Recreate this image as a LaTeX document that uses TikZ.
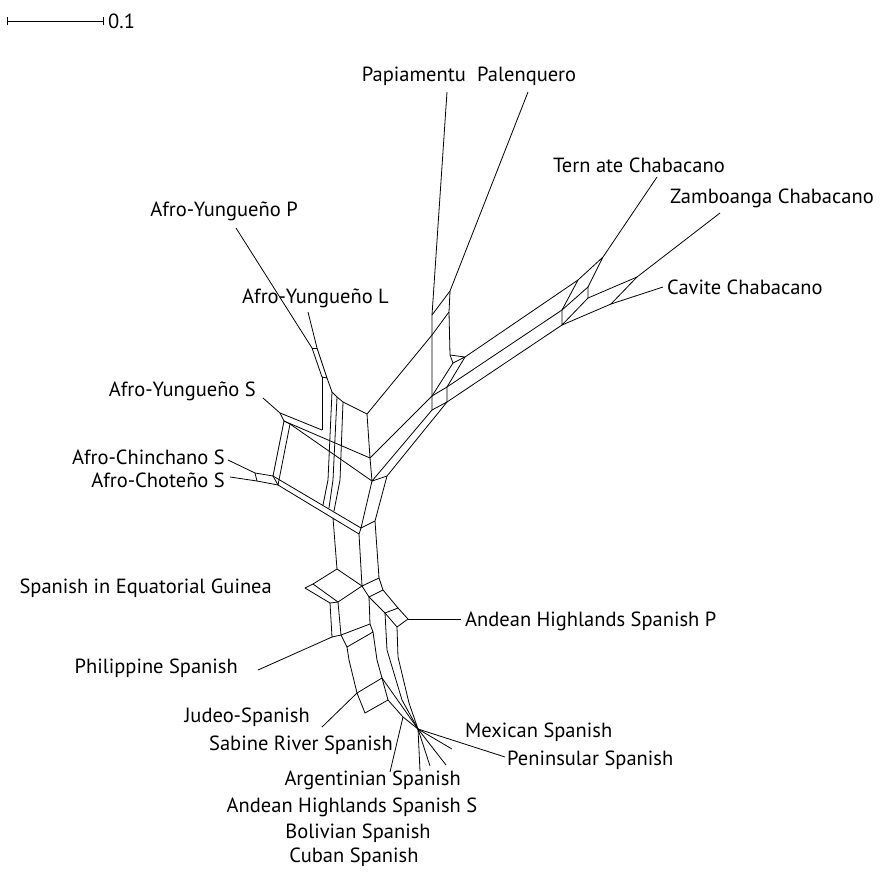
\documentclass[tikz,border=0pt]{standalone}
\usepackage{fontspec}
\setmainfont{PT Sans}
\usepackage{tikz}

\begin{document}
\begin{tikzpicture}[x=1pt, y=-1pt,
    net/.style={line width=0.8pt, line join=round},
    lbl/.style={inner sep=0pt, font=\fontsize{20.5}{24}\selectfont}]
        \useasboundingbox (0,0) rectangle (885,873);

        \coordinate (S0) at (7,21);
        \coordinate (S1) at (104,21);
        \node[lbl, anchor=west] (scl) at (108,21) {0.1};

        \coordinate (tPap) at (447,92);
        \coordinate (vPap) at (432,315);
        \coordinate (tPal) at (528,92);
        \coordinate (vPal) at (450,291);
        \coordinate (u1) at (432,335);
        \coordinate (u2) at (449,312);
        \coordinate (u3) at (432,396);
        \coordinate (u4) at (432,410);
        \coordinate (u5) at (450,355);
        \coordinate (u6) at (453,363);
        \coordinate (u7) at (465,357);
        \coordinate (k1) at (447,387);
        \coordinate (k2) at (447,402);

        \coordinate (tTer) at (657,177);
        \coordinate (vTer) at (603,257);
        \coordinate (c1) at (578,280);
        \coordinate (c2) at (588,287);
        \coordinate (c3) at (588,298);
        \coordinate (c4) at (562,310);
        \coordinate (c5) at (562,325);
        \coordinate (tZam) at (720,213);
        \coordinate (vZam) at (637,277);
        \coordinate (tCav) at (663,287);
        \coordinate (vCav) at (611,304);

        \coordinate (F) at (367,414);
        \coordinate (h1) at (370,458);
        \coordinate (h2) at (372,481);
        \coordinate (h3) at (387,476);

        \coordinate (tYP) at (236,228);
        \coordinate (vYP) at (312,348);
        \coordinate (tYL) at (308,312);
        \coordinate (vYL) at (317,348);
        \coordinate (y3) at (322,377);
        \coordinate (y4) at (327,378);
        \coordinate (a2) at (332,392);
        \coordinate (a3) at (337,397);
        \coordinate (a4) at (343,402);
        \coordinate (w1) at (322,430);
        \coordinate (v2a) at (328,480);
        \coordinate (v2b) at (323,505);
        \coordinate (v3a) at (333,480);
        \coordinate (v3b) at (329,508);
        \coordinate (v4a) at (340,480);
        \coordinate (v4b) at (334,511);

        \coordinate (tYS) at (263,398);
        \coordinate (vYS) at (280,413);
        \coordinate (sA) at (284,421);
        \coordinate (sB) at (290,424);
        \coordinate (tCh) at (228,460);
        \coordinate (vCh) at (255,473);
        \coordinate (tCt) at (230,477);
        \coordinate (vCt) at (257,481);
        \coordinate (bl1) at (273,476);
        \coordinate (bl2) at (278,485);
        \coordinate (j1a) at (361,528);
        \coordinate (j1b) at (359,534);
        \coordinate (j2) at (375,521);
        \coordinate (tl) at (333,518);

        \coordinate (T) at (337,569);
        \coordinate (q1) at (313,584);
        \coordinate (eqT) at (305,588);
        \coordinate (q2) at (330,603);
        \coordinate (q3) at (338,602);
        \coordinate (M) at (362,586);
        \coordinate (N) at (379,578);
        \coordinate (r1) at (383,590);
        \coordinate (r2) at (369,597);
        \coordinate (r3) at (398,608);
        \coordinate (r4) at (385,613);
        \coordinate (AP) at (408,619);
        \coordinate (r5) at (397,627);
        \coordinate (tAP) at (461,619);

        \coordinate (ph1) at (332,637);
        \coordinate (ph2) at (341,635);
        \coordinate (ph3) at (347,647);
        \coordinate (tPh) at (258,670);
        \coordinate (m1) at (370,624);
        \coordinate (m2) at (373,632);
        \coordinate (n1) at (349,660);
        \coordinate (n2) at (377,660);
        \coordinate (n3) at (387,650);
        \coordinate (n4) at (402,700);
        \coordinate (n5) at (398,657);
        \coordinate (n6) at (409,703);
        \coordinate (jb1) at (357,693);
        \coordinate (jb2) at (382,678);
        \coordinate (jb3) at (388,700);
        \coordinate (jb4) at (365,713);
        \coordinate (tJu) at (322,727);
        \coordinate (sr) at (403,717);
        \coordinate (tSa) at (390,772);
        \coordinate (fh) at (418,729);
        \coordinate (tAr) at (420,771);
        \coordinate (tAS) at (430,766);
        \coordinate (tBo) at (446,765);
        \coordinate (tMx) at (452,749);
        \coordinate (tPe) at (505,757);

        \node[lbl, anchor=east] (Pap) at (466,76) {Papiamentu};
        \node[lbl, anchor=west] (Pal) at (477,76) {Palenquero};
        \node[lbl, anchor=west] (Ter) at (553,165) {Tern ate Chabacano};
        \node[lbl, anchor=west] (Zam) at (670,198) {Zamboanga Chabacano};
        \node[lbl, anchor=west] (Cav) at (667,287) {Cavite Chabacano};
        \node[lbl] (AYP) at (224,211) {Afro-Yungueño P};
        \node[lbl, anchor=east] (AYL) at (389,298) {Afro-Yungueño L};
        \node[lbl, anchor=east] (AYS) at (256,391) {Afro-Yungueño S};
        \node[lbl, anchor=east] (ACh) at (225,457) {Afro-Chinchano S};
        \node[lbl, anchor=east] (ACt) at (225,480) {Afro-Choteño S};
        \node[lbl, anchor=east] (SEG) at (272,588) {Spanish in Equatorial Guinea};
        \node[lbl, anchor=west] (AHP) at (465,621) {Andean Highlands Spanish P};
        \node[lbl, anchor=east] (PhS) at (238,668) {Philippine Spanish};
        \node[lbl, anchor=east] (JuS) at (310,717) {Judeo-Spanish};
        \node[lbl, anchor=east] (SRS) at (393,745) {Sabine River Spanish};
        \node[lbl, anchor=west] (MxS) at (465,732) {Mexican Spanish};
        \node[lbl, anchor=west] (PeS) at (507,760) {Peninsular Spanish};
        \node[lbl, anchor=east] (ArS) at (461,780) {Argentinian Spanish};
        \node[lbl] (AHS) at (352,807) {Andean Highlands Spanish S};
        \node[lbl] (BoS) at (358,833) {Bolivian Spanish};
        \node[lbl] (CuS) at (354,857) {Cuban Spanish};

        \draw[net, |-|] (S0) -- (S1);

        \draw[net] (tPap) -- (vPap) -- (u1) -- (u3) -- (u4);
        \draw[net] (tPal) -- (vPal) -- (u2) -- (u5) -- (u6) -- (u3);
        \draw[net] (vPap) -- (vPal);
        \draw[net] (u1) -- (u2);
        \draw[net] (u1) -- (F);
        \draw[net] (u5) -- (u7) -- (u6);
        \draw[net] (u7) -- (k1) -- (k2);
        \draw[net] (k1) -- (u3);
        \draw[net] (k2) -- (u4);
        \draw[net] (u3) -- (h1);
        \draw[net] (u4) -- (h2);
        \draw[net] (k2) -- (h3) -- (h2);

        \draw[net] (tTer) -- (vTer) -- (c1) -- (c4) -- (c5) -- (c3) -- (c2) -- (vTer);
        \draw[net] (c4) -- (c2);
        \draw[net] (c3) -- (vZam) -- (tZam);
        \draw[net] (c5) -- (vCav) -- (tCav);
        \draw[net] (vZam) -- (vCav);
        \draw[net] (c1) -- (u7);
        \draw[net] (c4) -- (k1);
        \draw[net] (c5) -- (k2);

        \draw[net] (F) -- (h1) -- (h2);

        \draw[net] (tYP) -- (vYP) -- (y3) -- (y4) -- (vYL) -- (tYL);
        \draw[net] (vYP) -- (vYL);
        \draw[net] (y4) -- (a2) -- (a3) -- (a4) -- (F);
        \draw[net] (y3) -- (w1);
        \draw[net] (a2) -- (v2a) -- (v2b);
        \draw[net] (a3) -- (v3a) -- (v3b);
        \draw[net] (a4) -- (v4a) -- (v4b);
        \draw[net] (tYS) -- (vYS) -- (w1);
        \draw[net] (vYS) -- (sA) -- (sB);
        \draw[net] (sA) -- (h1);
        \draw[net] (sB) -- (h2);
        \draw[net] (sA) -- (bl1) -- (vCh) -- (tCh);
        \draw[net] (sB) -- (bl2) -- (vCt) -- (tCt);
        \draw[net] (vCh) -- (vCt);
        \draw[net] (bl1) -- (bl2);
        \draw[net] (bl1) -- (j1a) -- (j1b) -- (bl2);
        \draw[net] (h2) -- (j1a) -- (j2) -- (h3);
        \draw[net] (j1b) -- (M);
        \draw[net] (j2) -- (N);
        \draw[net] (tl) -- (T);

        \draw[net] (T) -- (q1) -- (eqT) -- (q2) -- (q3) -- (q1);
        \draw[net] (q3) -- (M) -- (T);
        \draw[net] (M) -- (N) -- (r1) -- (r2) -- (M);
        \draw[net] (r1) -- (r3) -- (r4) -- (r2);
        \draw[net] (r3) -- (AP) -- (r5) -- (r4);
        \draw[net] (AP) -- (tAP);
        \draw[net] (q2) -- (ph1) -- (ph2) -- (q3);
        \draw[net] (ph1) -- (tPh);
        \draw[net] (ph2) -- (ph3) -- (m2) -- (m1) -- (ph2);
        \draw[net] (r2) -- (m1);
        \draw[net] (ph3) -- (n1) -- (jb1);
        \draw[net] (m2) -- (n2) -- (jb2);
        \draw[net] (jb1) -- (jb2) -- (jb3) -- (jb4) -- (jb1);
        \draw[net] (jb1) -- (tJu);
        \draw[net] (r4) -- (n3) -- (n4) -- (fh);
        \draw[net] (r5) -- (n5) -- (n6) -- (fh);
        \draw[net] (jb2) -- (fh);
        \draw[net] (jb3) -- (sr) -- (fh);
        \draw[net] (sr) -- (tSa);
        \draw[net] (fh) -- (tAr);
        \draw[net] (fh) -- (tAS);
        \draw[net] (fh) -- (tBo);
        \draw[net] (fh) -- (tMx);
        \draw[net] (fh) -- (tPe);
    \end{tikzpicture}
\end{document}
